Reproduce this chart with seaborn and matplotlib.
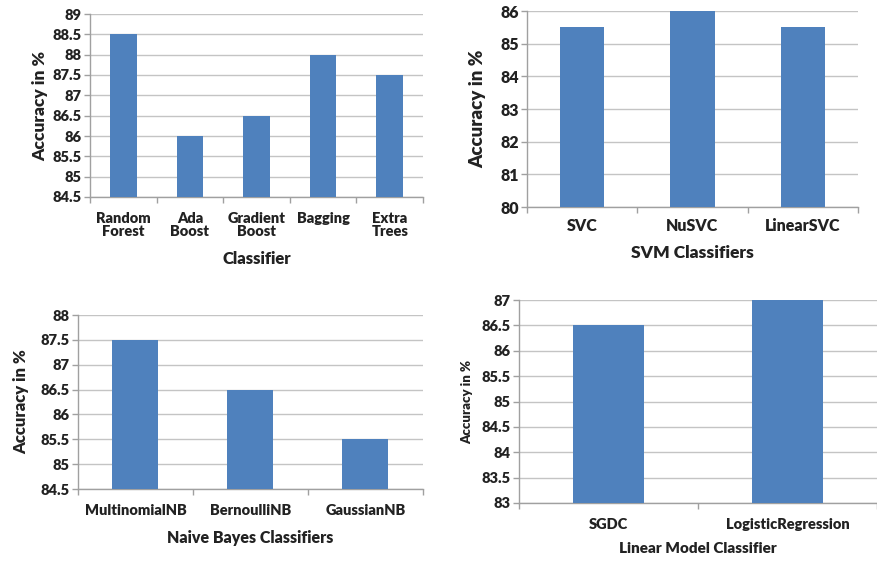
import matplotlib
matplotlib.use("Agg")
import matplotlib.pyplot as plt
from matplotlib.ticker import MultipleLocator, FixedLocator, FuncFormatter
import pandas as pd
import seaborn as sns

# Ensemble classifiers
ens_names = ["Random\nForest", "Ada\nBoost", "Gradient\nBoost", "Bagging", "Extra\nTrees"]
ens_acc = [88.5, 86.0, 86.5, 88.0, 87.5]

# SVM classifiers
svm_names = ["SVC", "NuSVC", "LinearSVC"]
svm_acc = [85.5, 86.0, 85.5]

# Naive Bayes classifiers
nb_names = ["MultinomialNB", "BernoulliNB", "GaussianNB"]
nb_acc = [87.5, 86.5, 85.5]

# Linear model classifiers
lin_names = ["SGDC", "LogisticRegression"]
lin_acc = [86.5, 87.0]

WEIGHT = 800
sns.set_theme(style="white")
plt.rcParams["font.family"] = ["Lato", "DejaVu Sans"]
plt.rcParams["font.weight"] = WEIGHT
plt.rcParams["axes.labelweight"] = WEIGHT

BAR = "#4F81BD"
GRID = "#C4C4C4"
SPINE = "#A0A0A0"
TXT = "#222222"

W, H = 878, 562
fig = plt.figure(figsize=(W / 100, H / 100), dpi=100)
fig.patch.set_facecolor("white")


def make_ax(left, top, right, bottom):
    return fig.add_axes([left / W, 1 - bottom / H, (right - left) / W, (bottom - top) / H])


def panel(ax, names, values, ylim, step, xlabel, ylabel_size, ylabel_pad,
          xlabel_size, xlabel_pad, tick_size=10.5, tick_pad=11):
    df = pd.DataFrame({"name": names, "acc": values})
    sns.barplot(data=df, x="name", y="acc", ax=ax, color=BAR, saturation=1,
                width=0.4, edgecolor="none", zorder=3)
    ax.set_ylim(*ylim)
    ax.set_xlim(-0.5, len(names) - 0.5)
    ax.yaxis.set_major_locator(MultipleLocator(step))
    ax.yaxis.set_major_formatter(FuncFormatter(lambda v, _: f"{v:g}"))
    ax.yaxis.grid(True, color=GRID, linewidth=1.0, zorder=0)
    ax.set_axisbelow(True)
    for s in ("top", "right"):
        ax.spines[s].set_visible(False)
    for s in ("left", "bottom"):
        ax.spines[s].set_color(SPINE)
        ax.spines[s].set_linewidth(1.0)
    ax.tick_params(axis="y", which="major", left=True, length=4, width=1,
                   color=SPINE, labelsize=tick_size, labelcolor=TXT, pad=2)
    ax.xaxis.set_minor_locator(FixedLocator([i - 0.5 for i in range(len(names) + 1)]))
    ax.tick_params(axis="x", which="major", bottom=False, length=0,
                   labelsize=tick_size, labelcolor=TXT, pad=tick_pad)
    ax.tick_params(axis="x", which="minor", bottom=True, length=4, width=1, color=SPINE)
    for lab in ax.get_xticklabels():
        lab.set_linespacing(1.0)
    ax.set_xlabel(xlabel, fontsize=xlabel_size, fontweight=WEIGHT, color=TXT, labelpad=xlabel_pad)
    ax.set_ylabel("Accuracy in %", fontsize=ylabel_size, fontweight=WEIGHT, color=TXT,
                  labelpad=ylabel_pad)


ax1 = make_ax(90, 14, 423, 197)
panel(ax1, ens_names, ens_acc, (84.5, 89), 0.5, "Classifier",
      ylabel_size=12.5, ylabel_pad=3, xlabel_size=12, xlabel_pad=9)

ax2 = make_ax(527, 11, 858, 207)
panel(ax2, svm_names, svm_acc, (80, 86), 1, "SVM Classifiers",
      ylabel_size=13.5, ylabel_pad=10, xlabel_size=12.5, xlabel_pad=8,
      tick_size=11.5, tick_pad=8)

ax3 = make_ax(78, 315, 423, 489)
panel(ax3, nb_names, nb_acc, (84.5, 88), 0.5, "Naive Bayes Classifiers",
      ylabel_size=12, ylabel_pad=8, xlabel_size=11.5, xlabel_pad=9)

ax4 = make_ax(519, 300, 877, 503)
panel(ax4, lin_names, lin_acc, (83, 87), 0.5, "Linear Model Classifier",
      ylabel_size=9.5, ylabel_pad=6, xlabel_size=11, xlabel_pad=8)

# make sure every tick label ends up in the heavy weight
fig.canvas.draw()
for ax in fig.axes:
    for lab in ax.get_xticklabels() + ax.get_yticklabels():
        lab.set_fontweight(WEIGHT)

fig.savefig("out.png", dpi=100, facecolor="white")
